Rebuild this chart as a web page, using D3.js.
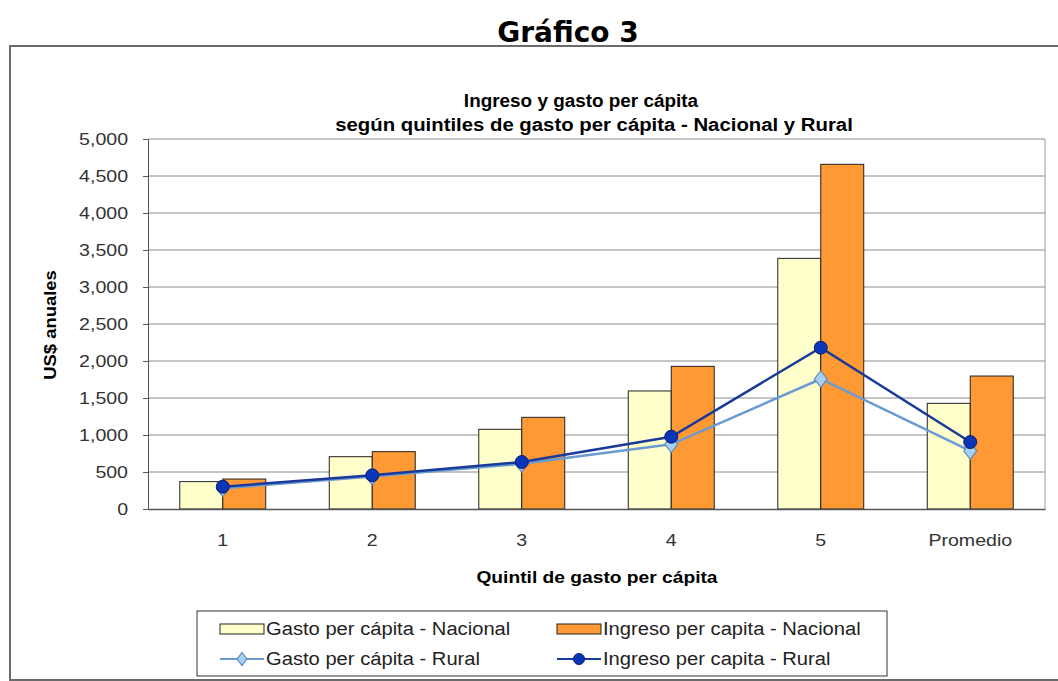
<!DOCTYPE html>
<html>
<head>
<meta charset="utf-8">
<script src="https://cdn.jsdelivr.net/npm/d3@7"></script>
<style>
  html, body { margin: 0; padding: 0; background: #fff; }
  svg { display: block; }
  text { font-family: "Liberation Sans", Arial, sans-serif; }
</style>
</head>
<body>
<svg id="chart" width="1058" height="681"></svg>
<script>
// ---- data ----
const categories = ["1", "2", "3", "4", "5", "Promedio"];
const gastoNacional   = [370, 707, 1077, 1595, 3387, 1428];
const ingresoNacional = [405, 775, 1239, 1928, 4658, 1797];
const gastoRural      = [280, 440, 610, 874, 1757, 784];
const ingresoRural    = [301, 455, 635, 977, 2180, 905];
const yTicks = [0, 500, 1000, 1500, 2000, 2500, 3000, 3500, 4000, 4500, 5000];
const seriesNames = ["Gasto per cápita - Nacional", "Ingreso per capita - Nacional",
                     "Gasto per cápita - Rural", "Ingreso per capita - Rural"];

(function () {
const svg = d3.select("#chart");

// widen text horizontally (the original uses a wide-rendered Arial)
function stretch(sel, k) {
  sel.each(function () {
    const len = this.getComputedTextLength();
    d3.select(this).attr("textLength", len * k).attr("lengthAdjust", "spacingAndGlyphs");
  });
}

// heading above the box
svg.append("text").attr("x", 568).attr("y", 42).attr("text-anchor", "middle")
  .style("font-family", "'DejaVu Sans', Verdana, sans-serif")
  .style("font-weight", "bold").style("font-size", "28px").attr("fill", "#000")
  .text("Gráfico 3");

// outer frame
svg.append("rect").attr("x", 10).attr("y", 46).attr("width", 1070).attr("height", 634)
  .attr("fill", "#fff").attr("stroke", "#6b6b6b").attr("stroke-width", 2);

// chart title
const t1 = svg.append("text").attr("x", 581).attr("y", 107).attr("text-anchor", "middle")
  .style("font-weight", "bold").style("font-size", "18px").text("Ingreso y gasto per cápita");
stretch(t1, 1.05);
const t2 = svg.append("text").attr("x", 594).attr("y", 131).attr("text-anchor", "middle")
  .style("font-weight", "bold").style("font-size", "18px")
  .text("según quintiles de gasto per cápita - Nacional y Rural");
stretch(t2, 1.13);

// scales
const pLeft = 148, pRight = 1045, pTop = 139, pBottom = 509;
const x = d3.scaleBand().domain(categories).range([pLeft, pRight])
  .paddingInner(0.425).paddingOuter(0.2125);
const xs = d3.scaleBand().domain([0, 1]).range([0, x.bandwidth()]);
const y = d3.scaleLinear().domain([0, 5000]).range([pBottom, pTop]);

// gridlines
svg.append("g").selectAll("line").data(yTicks.filter(d => d > 0)).join("line")
  .attr("x1", pLeft).attr("x2", pRight)
  .attr("y1", d => y(d)).attr("y2", d => y(d))
  .attr("stroke", "#8c8c8c").attr("stroke-width", 1);
// right plot border
svg.append("line").attr("x1", pRight).attr("x2", pRight).attr("y1", pTop).attr("y2", pBottom)
  .attr("stroke", "#9a9a9a").attr("stroke-width", 1);

// y axis
const yAxis = svg.append("g").attr("transform", `translate(${pLeft},0)`)
  .call(d3.axisLeft(y).tickValues(yTicks).tickSize(5).tickPadding(15)
    .tickFormat(d3.format(",")));
yAxis.select(".domain").attr("stroke", "#555");
yAxis.selectAll(".tick line").attr("stroke", "#555");
yAxis.selectAll(".tick text").style("font-size", "17px").attr("fill", "#333")
  .style("font-family", "'Liberation Sans', Arial, sans-serif");
stretch(yAxis.selectAll(".tick text"), 1.15);

// bars
const bars = svg.append("g");
categories.forEach((c, i) => {
  [gastoNacional[i], ingresoNacional[i]].forEach((v, j) => {
    bars.append("rect")
      .attr("x", x(c) + xs(j)).attr("width", xs.bandwidth())
      .attr("y", y(v)).attr("height", y(0) - y(v))
      .attr("fill", j === 0 ? "#ffffcc" : "#ff9933")
      .attr("stroke", "#222").attr("stroke-width", 1);
  });
});

// x axis
const xAxis = svg.append("g").attr("transform", `translate(0,${pBottom})`)
  .call(d3.axisBottom(x).tickSize(0).tickPadding(25));
xAxis.select(".domain").attr("stroke", "#555").attr("stroke-width", 1.5);
xAxis.selectAll(".tick text").style("font-size", "17px").attr("fill", "#333")
  .style("font-family", "'Liberation Sans', Arial, sans-serif");
stretch(xAxis.selectAll(".tick text"), 1.15);

// lines
const cx = c => x(c) + x.bandwidth() / 2;
const lineGen = d3.line().x((d, i) => cx(categories[i])).y(d => y(d));
svg.append("path").datum(gastoRural).attr("d", lineGen).attr("fill", "none")
  .attr("stroke", "#6b9bd1").attr("stroke-width", 2.5);
svg.append("g").selectAll("path").data(gastoRural).join("path")
  .attr("d", d3.symbol(d3.symbolDiamond, 100))
  .attr("transform", (d, i) => `translate(${cx(categories[i])},${y(d)}) scale(1.2,0.9)`)
  .attr("fill", "#a8d0f5").attr("stroke", "#5f86b5").attr("stroke-width", 1);
svg.append("path").datum(ingresoRural).attr("d", lineGen).attr("fill", "none")
  .attr("stroke", "#1a3a99").attr("stroke-width", 2.5);
svg.append("g").selectAll("circle").data(ingresoRural).join("circle")
  .attr("cx", (d, i) => cx(categories[i])).attr("cy", d => y(d)).attr("r", 6.5)
  .attr("fill", "#0a35b8").attr("stroke", "#0b1f6b").attr("stroke-width", 1);

// axis titles
const xt = svg.append("text").attr("x", 597).attr("y", 583).attr("text-anchor", "middle")
  .style("font-weight", "bold").style("font-size", "16px").text("Quintil de gasto per cápita");
stretch(xt, 1.2);
const yt = svg.append("text").attr("transform", "translate(56,325) rotate(-90)").attr("text-anchor", "middle")
  .style("font-weight", "bold").style("font-size", "16px").text("US$ anuales");
stretch(yt, 1.15);

// legend
const lg = svg.append("g");
lg.append("rect").attr("x", 197).attr("y", 611).attr("width", 690).attr("height", 65)
  .attr("fill", "#fff").attr("stroke", "#333").attr("stroke-width", 1);
const legendItems = [
  { name: seriesNames[0], type: "bar", fill: "#ffffcc", lx: 220, ly: 629 },
  { name: seriesNames[1], type: "bar", fill: "#ff9933", lx: 557, ly: 629 },
  { name: seriesNames[2], type: "diamond", lx: 220, ly: 659 },
  { name: seriesNames[3], type: "circle", lx: 557, ly: 659 }
];
legendItems.forEach(it => {
  if (it.type === "bar") {
    lg.append("rect").attr("x", it.lx).attr("y", it.ly - 5).attr("width", 44).attr("height", 10)
      .attr("fill", it.fill).attr("stroke", "#222").attr("stroke-width", 1);
  } else if (it.type === "diamond") {
    lg.append("line").attr("x1", it.lx).attr("x2", it.lx + 44).attr("y1", it.ly).attr("y2", it.ly)
      .attr("stroke", "#6b9bd1").attr("stroke-width", 2);
    lg.append("path").attr("d", d3.symbol(d3.symbolDiamond, 60))
      .attr("transform", `translate(${it.lx + 22},${it.ly}) scale(1.2,0.9)`)
      .attr("fill", "#a8d0f5").attr("stroke", "#5f86b5");
  } else {
    lg.append("line").attr("x1", it.lx).attr("x2", it.lx + 44).attr("y1", it.ly).attr("y2", it.ly)
      .attr("stroke", "#1a3a99").attr("stroke-width", 2);
    lg.append("circle").attr("cx", it.lx + 22).attr("cy", it.ly).attr("r", 5.5)
      .attr("fill", "#0a35b8").attr("stroke", "#0b1f6b");
  }
  const tx = lg.append("text").attr("x", it.lx + 46).attr("y", it.ly + 6)
    .style("font-size", "18px").attr("fill", "#222").text(it.name);
  stretch(tx, 1.12);
});
})();
</script>
</body>
</html>
